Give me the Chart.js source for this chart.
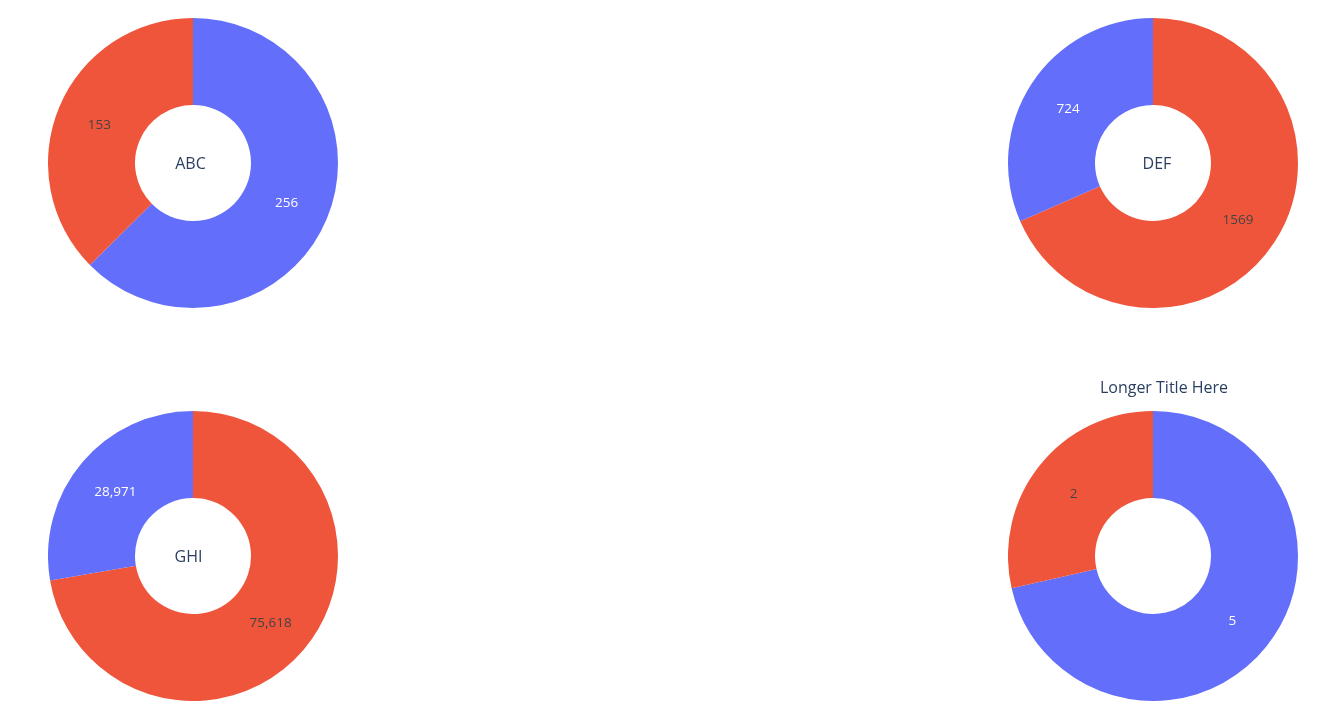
<!DOCTYPE html>
<html>
<head>
<meta charset="utf-8">
<script src="https://cdn.jsdelivr.net/npm/chart.js@4.4.1/dist/chart.umd.min.js"></script>
<style>
  html, body { margin: 0; padding: 0; background: #fff; }
  body { width: 1318px; height: 716px; position: relative; overflow: hidden; }
  .box { position: absolute; }
</style>
</head>
<body>
<div class="box" id="b0" style="left:48px;top:18px;width:290px;height:290px;"><canvas id="c0"></canvas></div>
<div class="box" id="b1" style="left:1008px;top:18px;width:290px;height:290px;"><canvas id="c1"></canvas></div>
<div class="box" id="b2" style="left:48px;top:411px;width:290px;height:290px;"><canvas id="c2"></canvas></div>
<div class="box" id="b3" style="left:1008px;top:371px;width:290px;height:330px;"><canvas id="c3"></canvas></div>
<script>
// ---- data ----
const centerTexts = ['ABC', 'DEF', 'GHI', ''];
const chartTitles = ['', '', '', 'Longer Title Here'];
const sliceNames = ['Blue', 'Red'];
const blueValues = [256, 724, 28971, 5];
const redValues = [153, 1569, 75618, 2];
const useThousandsSep = [true, false, true, true];

// ---- style ----
const BLUE = '#636efa', RED = '#ef553b';
const textColors = { Blue: '#ffffff', Red: '#444444' };
const centerOffsets = [-2.5, 4, -4.5, 0];
const FONT = '"Open Sans", "DejaVu Sans", sans-serif';

function fmt(v, sep) {
  return sep ? v.toLocaleString('en-US') : String(v);
}

const sliceLabelPlugin = {
  id: 'sliceLabels',
  afterDatasetsDraw(chart) {
    const ctx = chart.ctx;
    const meta = chart.getDatasetMeta(0);
    const ds = chart.data.datasets[0];
    const sep = chart.options.plugins.sliceLabels.sep;
    ctx.save();
    ctx.font = '13.5px ' + FONT;
    ctx.textAlign = 'center';
    ctx.textBaseline = 'middle';
    meta.data.forEach((arc, i) => {
      const p = arc.getCenterPoint();
      ctx.fillStyle = textColors[chart.data.labels[i]];
      ctx.fillText(fmt(ds.data[i], sep), p.x, p.y + 1.5);
    });
    ctx.restore();
  }
};

const centerTextPlugin = {
  id: 'centerText',
  afterDraw(chart) {
    const o = chart.options.plugins.centerText;
    const a = chart.chartArea;
    const cx = (a.left + a.right) / 2, cy = (a.top + a.bottom) / 2;
    const ctx = chart.ctx;
    ctx.save();
    ctx.fillStyle = '#2a3f5f';
    ctx.textAlign = 'center';
    ctx.textBaseline = 'middle';
    ctx.font = '16px ' + FONT;
    if (o.text) {
      ctx.fillText(o.text, cx + o.dx, cy + 1.5);
    }
    if (o.title) {
      ctx.fillText(o.title, cx + 11, a.top - 22.5);
    }
    ctx.restore();
  }
};

for (let k = 0; k < 4; k++) {
  // plotly-like: sort slices descending, clockwise from 12 o'clock
  const slices = [
    { name: sliceNames[0], value: blueValues[k], color: BLUE },
    { name: sliceNames[1], value: redValues[k], color: RED }
  ].sort((a, b) => b.value - a.value);
  const box = document.getElementById('b' + k);
  const canvas = document.getElementById('c' + k);
  canvas.width = box.clientWidth; canvas.height = box.clientHeight;
  new Chart(canvas, {
    type: 'doughnut',
    data: {
      labels: slices.map(s => s.name),
      datasets: [{
        data: slices.map(s => s.value),
        backgroundColor: slices.map(s => s.color),
        borderWidth: 0
      }]
    },
    options: {
      responsive: false,
      animation: false,
      cutout: '40%',
      layout: { padding: { top: chartTitles[k] ? 40 : 0 } },
      plugins: {
        legend: { display: false },
        tooltip: { enabled: false },
        sliceLabels: { sep: useThousandsSep[k] },
        centerText: { text: centerTexts[k], dx: centerOffsets[k], title: chartTitles[k] }
      }
    },
    plugins: [sliceLabelPlugin, centerTextPlugin]
  });
}
</script>
</body>
</html>
